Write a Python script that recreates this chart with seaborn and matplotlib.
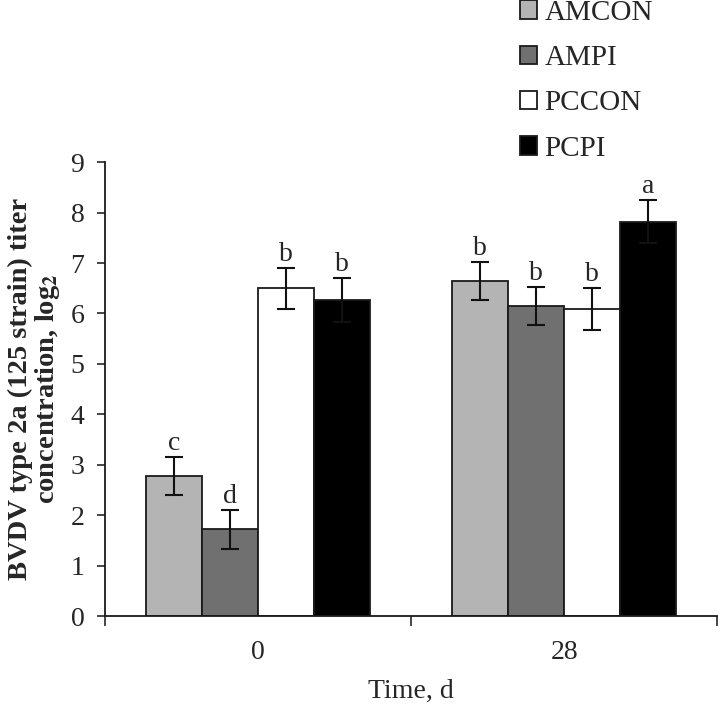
import pandas as pd
import numpy as np
import matplotlib
matplotlib.use('Agg')
import matplotlib.pyplot as plt
import seaborn as sns

# Data
times = ['0', '28']
groups = ['AMCON', 'AMPI', 'PCCON', 'PCPI']
means_d0 = [2.78, 1.72, 6.50, 6.27]
means_d28 = [6.65, 6.15, 6.09, 7.82]
errs_d0 = [0.38, 0.38, 0.41, 0.43]
errs_d28 = [0.38, 0.37, 0.41, 0.42]
letters_d0 = ['c', 'd', 'b', 'b']
letters_d28 = ['b', 'b', 'b', 'a']
colors = ['#b4b4b4', '#707070', '#ffffff', '#000000']

df = pd.DataFrame({
    'Time': [times[0]] * 4 + [times[1]] * 4,
    'Group': groups + groups,
    'Value': means_d0 + means_d28,
    'Err': errs_d0 + errs_d28,
    'Letter': letters_d0 + letters_d28,
})

sns.set_style('ticks')
plt.rcParams['font.family'] = ['Liberation Serif', 'DejaVu Serif']
plt.rcParams['mathtext.fontset'] = 'stix'

fig = plt.figure(figsize=(7.2, 7.05), dpi=100)
ax = fig.add_axes([0.146, 0.126, 0.85, 0.644])

sns.barplot(data=df, x='Time', y='Value', hue='Group', order=times,
            hue_order=groups, palette=colors, saturation=1, width=0.73,
            edgecolor='#1a1a1a', linewidth=1.3, errorbar=None, ax=ax)

# error bars and letters on top of each bar, positions taken from the bars
for cont, g in zip(ax.containers, groups):
    sub = df[df['Group'] == g].set_index('Time').loc[times]
    for bar, (_, row) in zip(cont, sub.iterrows()):
        xc = bar.get_x() + bar.get_width() / 2
        h = bar.get_height()
        ax.errorbar(xc, h, yerr=row['Err'], fmt='none', ecolor='#111111',
                    elinewidth=1.5, capsize=6.5, capthick=1.5, zorder=5)
        ax.text(xc, h + row['Err'] + 0.02, row['Letter'], ha='center',
                va='bottom', fontsize=20)

ax.set_ylim(0, 9)
ax.set_xlim(-0.5, 1.5)
ax.set_yticks(range(0, 10))
ax.tick_params(axis='y', labelsize=20, length=6, width=1.2, direction='out', pad=9)
ax.tick_params(axis='x', which='major', labelsize=20, length=0, pad=17)
ax.set_xticks([-0.5, 0.5, 1.5], minor=True)
ax.tick_params(axis='x', which='minor', length=7, width=1.2, direction='out')
sns.despine(ax=ax)
for s in ['left', 'bottom']:
    ax.spines[s].set_linewidth(1.3)
    ax.spines[s].set_color('#1a1a1a')

ax.set_xlabel('Time, d', fontsize=20, labelpad=10)
ax.set_ylabel('BVDV type 2a (125 strain) titer\nconcentration, log$_\\mathbf{2}$',
              fontsize=20.5, fontweight='bold', labelpad=6, linespacing=1.0)

handles, labels = ax.get_legend_handles_labels()
leg = ax.legend(handles, labels, loc='upper left', bbox_to_anchor=(0.722, 1.0),
                bbox_transform=fig.transFigure, frameon=False, fontsize=21,
                handlelength=0.6, handleheight=0.6, handletextpad=0.25,
                labelspacing=0.66, borderaxespad=0, borderpad=0)

fig.savefig('out.png', dpi=100)
